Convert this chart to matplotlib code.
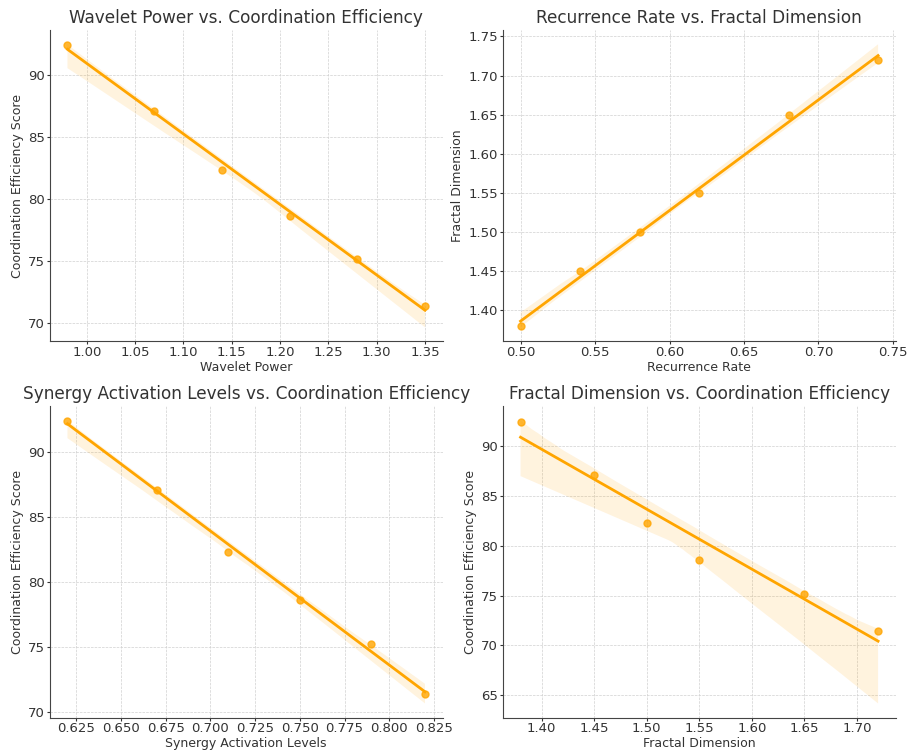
import numpy as np
import matplotlib
matplotlib.use("Agg")
import matplotlib.pyplot as plt
import seaborn as sns

# data
wavelet_power = [0.98, 1.07, 1.14, 1.21, 1.28, 1.35]
coordination_score = [92.4, 87.1, 82.3, 78.6, 75.2, 71.4]
recurrence_rate = [0.50, 0.54, 0.58, 0.62, 0.68, 0.74]
fractal_dimension = [1.38, 1.45, 1.50, 1.55, 1.65, 1.72]
synergy_levels = [0.62, 0.67, 0.71, 0.75, 0.79, 0.82]

panels = [
    (wavelet_power, coordination_score, "Wavelet Power vs. Coordination Efficiency",
     "Wavelet Power", "Coordination Efficiency Score"),
    (recurrence_rate, fractal_dimension, "Recurrence Rate vs. Fractal Dimension",
     "Recurrence Rate", "Fractal Dimension"),
    (synergy_levels, coordination_score, "Synergy Activation Levels vs. Coordination Efficiency",
     "Synergy Activation Levels", "Coordination Efficiency Score"),
    (fractal_dimension, coordination_score, "Fractal Dimension vs. Coordination Efficiency",
     "Fractal Dimension", "Coordination Efficiency Score"),
]

text_col = "#333333"
plt.rcParams.update({
    "font.family": "DejaVu Sans",
    "axes.edgecolor": "#444444",
    "axes.labelcolor": text_col,
    "xtick.color": text_col,
    "ytick.color": text_col,
    "text.color": text_col,
})

fig, axes = plt.subplots(2, 2, figsize=(9.18, 7.53), dpi=100)

for ax, (x, y, title, xlabel, ylabel) in zip(axes.flat, panels):
    sns.regplot(x=np.array(x), y=np.array(y), ax=ax, color="orange",
                scatter_kws={"s": 25}, line_kws={"linewidth": 2}, seed=0)
    ax.collections[1].set_alpha(0.13)
    ax.set_title(title, fontsize=12.2, color=text_col, pad=5)
    ax.set_xlabel(xlabel, fontsize=9, labelpad=1)
    ax.set_ylabel(ylabel, fontsize=9, labelpad=3)
    ax.tick_params(labelsize=9.5, length=2, pad=1.5)
    ax.grid(True, linestyle="--", linewidth=0.5, color="#d0d0d0")
    ax.set_axisbelow(True)
    for s in ["top", "right"]:
        ax.spines[s].set_visible(False)

plt.subplots_adjust(left=0.054, right=0.976, top=0.960, bottom=0.047,
                    wspace=0.152, hspace=0.208)
plt.savefig("out.png", dpi=100)
